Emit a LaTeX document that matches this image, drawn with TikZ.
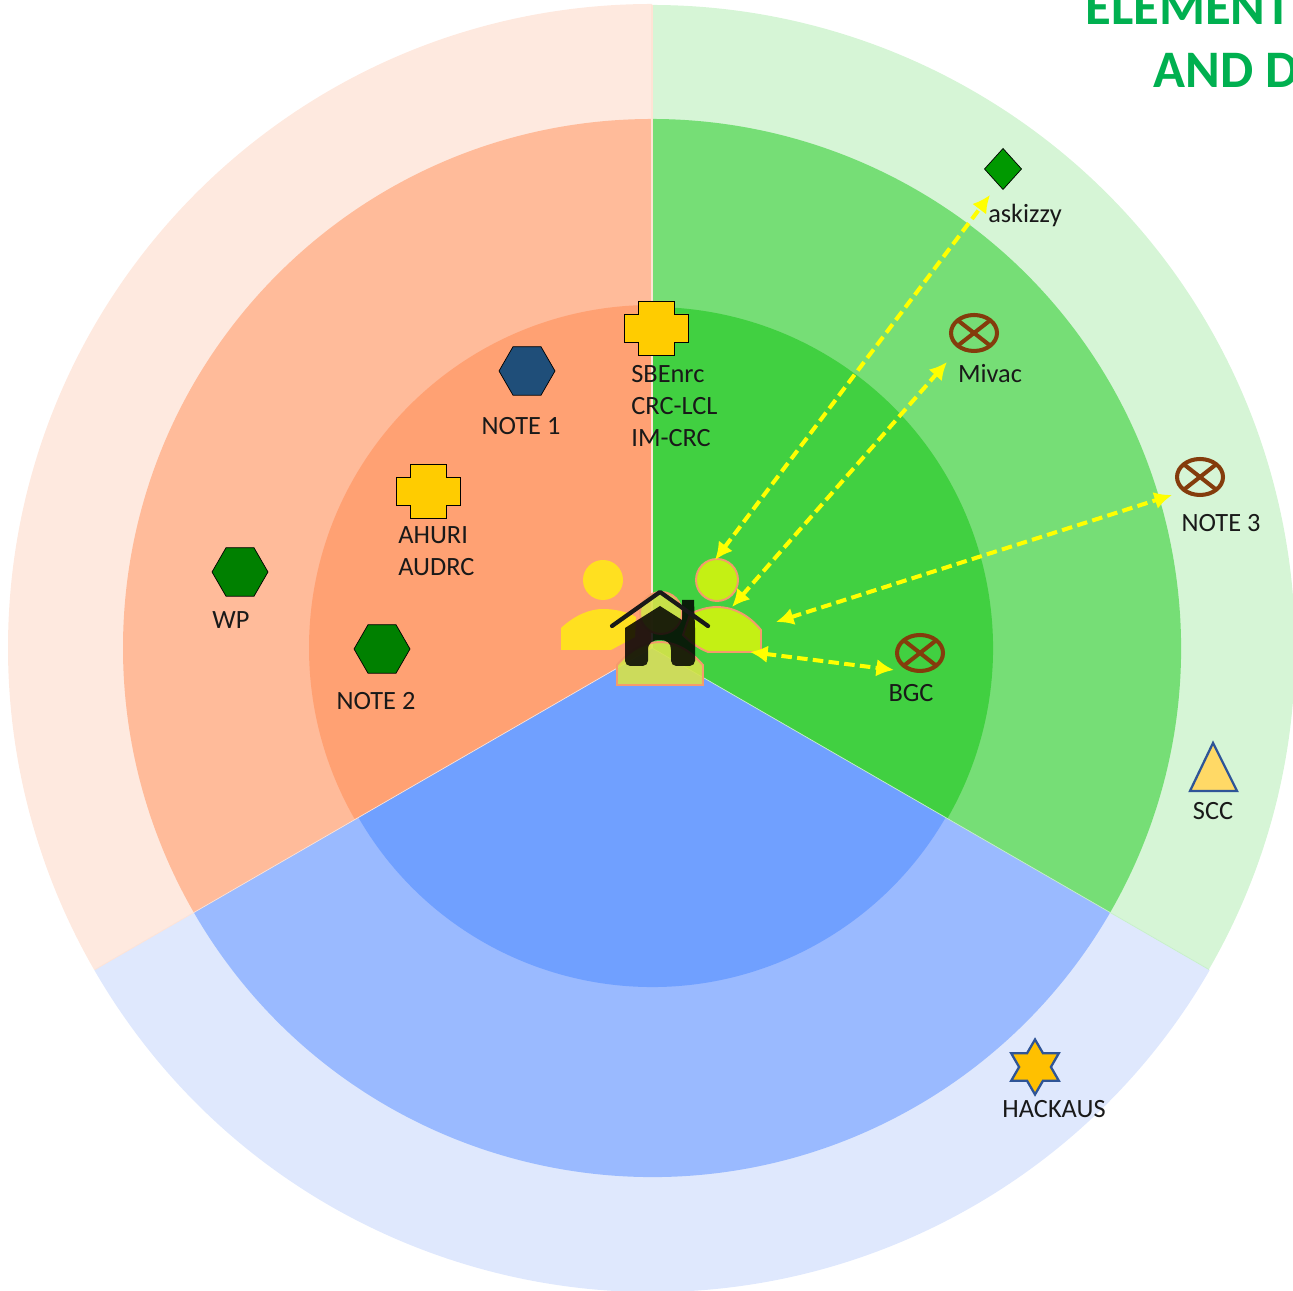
\documentclass[tikz,border=0pt]{standalone}
\usepackage{fontspec}
\setmainfont{Carlito}
\usepackage{tikz}
\usetikzlibrary{arrows.meta,shapes.geometric}
\definecolor{orangeA}{HTML}{FEE9DF}
\definecolor{orangeB}{HTML}{FFBB9A}
\definecolor{orangeC}{HTML}{FFA173}
\definecolor{greenA}{HTML}{D6F5D6}
\definecolor{greenB}{HTML}{76DE76}
\definecolor{greenC}{HTML}{41D041}
\definecolor{blueA}{HTML}{DFE8FD}
\definecolor{blueB}{HTML}{9ABAFF}
\definecolor{blueC}{HTML}{70A0FF}
\definecolor{brownmark}{HTML}{843C0C}
\definecolor{edgeblue}{HTML}{2F5597}
\definecolor{edgeorange}{HTML}{F59B6C}
\definecolor{titlegreen}{HTML}{00B050}
\definecolor{plusyellow}{HTML}{FFCC00}
\definecolor{staryellow}{HTML}{FFC000}
\definecolor{trianglefill}{HTML}{FFD966}
\definecolor{hexblue}{HTML}{1F4E79}
\definecolor{personleft}{HTML}{FFE020}
\definecolor{personright}{HTML}{C4F014}
\definecolor{personmid}{HTML}{D6E24A}
\definecolor{linkyellow}{HTML}{FFFF00}
\def\ringsector[#1](#2:#3:#4){\fill[#1] (652,642) -- ++(#2:#4) arc (#2:#3:#4) -- cycle;}
\def\plusmark(#1,#2){\draw[fill=plusyellow, shift={(#1,#2)}] (-18,27) -- (18,27) -- (18,14) -- (32,14) -- (32,-14) -- (18,-14) -- (18,-27) -- (-18,-27) -- (-18,-14) -- (-32,-14) -- (-32,14) -- (-18,14) -- cycle;}
\tikzset{
	nametext/.style={font=\fontsize{15}{18}\selectfont, text=black!90, inner sep=0pt, align=left},
	titletext/.style={font=\fontsize{30}{36}\selectfont\bfseries, text=titlegreen, inner sep=0pt, anchor=base west},
	hexmark/.style={regular polygon, regular polygon sides=6, draw=black, minimum size=1.12cm, inner sep=0pt, outer sep=0pt},
	crossmark/.style={ellipse, draw=brownmark, line width=2.3pt, minimum width=0.92cm, minimum height=0.72cm, inner sep=0pt, outer sep=0pt},
	crossline/.style={draw=brownmark, line width=2.3pt},
	linkarrow/.style={draw=linkyellow, line width=2.3pt, dash pattern=on 6pt off 3pt, {Latex[length=10pt,width=10pt]}-{Latex[length=10pt,width=10pt]}},
	personedge/.style={draw=edgeorange, line width=1.1pt}
}
\begin{document}
\begin{tikzpicture}[x=0.02cm,y=0.02cm]
	%%%%% START %%%%%
	\useasboundingbox (0,0) rectangle (1293,1290);
	
	\ringsector[orangeA](90:210:644);
	\ringsector[greenA](-30:90:643);
	\ringsector[blueA](-150:-30:644);
	\ringsector[orangeB](90:210:529);
	\ringsector[greenB](-30:90:529);
	\ringsector[blueB](-150:-30:529);
	\ringsector[orangeC](90:210:343);
	\ringsector[greenC](-30:90:341);
	\ringsector[blueC](-150:-30:339);
	
	\draw[white!70!orangeC, line width=0.6pt] (652,642) -- ++(90:643);
	\draw[white!70!orangeC, line width=0.4pt] (652,642) -- ++(210:643);
	\draw[white!70!greenC, line width=0.4pt] (652,642) -- ++(-30:643);
	
	\node[titletext] (titleA) at (1085,1265) {ELEMENT};
	\node[titletext] (titleB) at (1153,1202) {AND D};
	
	% people
	\fill[personleft] (603,710) circle (20);
	\fill[personleft] (561,640) -- (561,662) .. controls (575,675) and (590,681) .. (603,681) .. controls (615,681) and (628,678) .. (636,673) -- (635,653) -- (611,640) -- cycle;
	\draw[personedge, fill=personright] (717,710) circle (21);
	\draw[personedge, fill=personright] (761,638) -- (761,660) .. controls (748,676) and (732,683) .. (717,683) .. controls (708,683) and (698,680) .. (690,676) -- (683,655) .. controls (690,648) and (698,642) .. (708,638) -- cycle;
	\draw[personedge, fill=personmid, fill opacity=0.9] (661,677) circle (21);
	\draw[personedge, fill=personmid, fill opacity=0.9] (617,605) -- (617,625) .. controls (630,640) and (645,648) .. (660,648) .. controls (675,648) and (690,640) .. (703,625) -- (703,605) -- cycle;
	
	% house
	\fill[black, opacity=0.85] (625,662) -- (660,684) -- (682,670) -- (682,690) -- (694,690) -- (695,662) [rounded corners=3pt] -- (695,624) -- (671,624) [sharp corners] -- (671,640) .. controls (671,647) and (667,650) .. (660,650) .. controls (652,650) and (648,647) .. (648,640) [rounded corners=3pt] -- (648,624) -- (625,624) [sharp corners] -- cycle;
	\draw[black!90, line width=2.4pt, line cap=round, line join=round] (612,664) -- (660,698) -- (708,664);
	
	% marks
	\node[hexmark, fill=hexblue] (noteone) at (527,919) {};
	\node[hexmark, fill=green!50!black] (wp) at (240,718) {};
	\node[hexmark, fill=green!50!black] (notetwo) at (382,641) {};
	\plusmark(656,962);
	\plusmark(428,799);
	\node[diamond, draw=black, fill=green!60!black, minimum width=0.74cm, minimum height=0.82cm, inner sep=0pt, outer sep=0pt] (askizzy) at (1003,1121) {};
	
	\node[crossmark] (mivac) at (974,957) {};
	\draw[crossline] (mivac.north east) -- (mivac.south west);
	\draw[crossline] (mivac.north west) -- (mivac.south east);
	\node[crossmark] (notethree) at (1200,813) {};
	\draw[crossline] (notethree.north east) -- (notethree.south west);
	\draw[crossline] (notethree.north west) -- (notethree.south east);
	\node[crossmark] (bgc) at (920,637) {};
	\draw[crossline] (bgc.north east) -- (bgc.south west);
	\draw[crossline] (bgc.north west) -- (bgc.south east);
	
	\draw[draw=edgeblue, line width=1.3pt, fill=trianglefill] (1213,547) -- (1237,499) -- (1190,499) -- cycle;
	\node[star, star points=6, star point ratio=1.73, draw=edgeblue, line width=1.3pt, fill=staryellow, minimum size=1.1cm, inner sep=0pt, outer sep=0pt] (hackaus) at (1035,223) {};
	
	% labels
	\node[nametext] (noteonetext) at (521,864) {NOTE 1};
	\node[nametext] (wptext) at (231,670) {WP};
	\node[nametext] (notetwotext) at (376,589) {NOTE 2};
	\node[nametext, anchor=west] (sbtext) at (631,884) {SBEnrc\\CRC-LCL\\IM-CRC};
	\node[nametext, anchor=west] (ahtext) at (398,739) {AHURI\\AUDRC};
	\node[nametext] (askizzytext) at (1025,1075) {askizzy};
	\node[nametext] (mivactext) at (990,916) {Mivac};
	\node[nametext] (notethreetext) at (1221,767) {NOTE 3};
	\node[nametext] (bgctext) at (911,597) {BGC};
	\node[nametext] (scctext) at (1213,479) {SCC};
	\node[nametext] (hackaustext) at (1054,181) {HACKAUS};
	
	% links
	\coordinate (personA) at (715,730);
	\coordinate (personB) at (732,683);
	\coordinate (personC) at (776,668);
	\coordinate (personD) at (750,638);
	\coordinate (askizzyend) at (990,1095);
	\coordinate (mivacend) at (947,928);
	\coordinate (notethreeend) at (1172,795);
	\coordinate (bgcend) at (894,620);
	\draw[linkarrow] (personA) -- (askizzyend);
	\draw[linkarrow] (personB) -- (mivacend);
	\draw[linkarrow] (personC) -- (notethreeend);
	\draw[linkarrow] (personD) -- (bgcend);
	%%%%% END %%%%%
\end{tikzpicture}
\end{document}
